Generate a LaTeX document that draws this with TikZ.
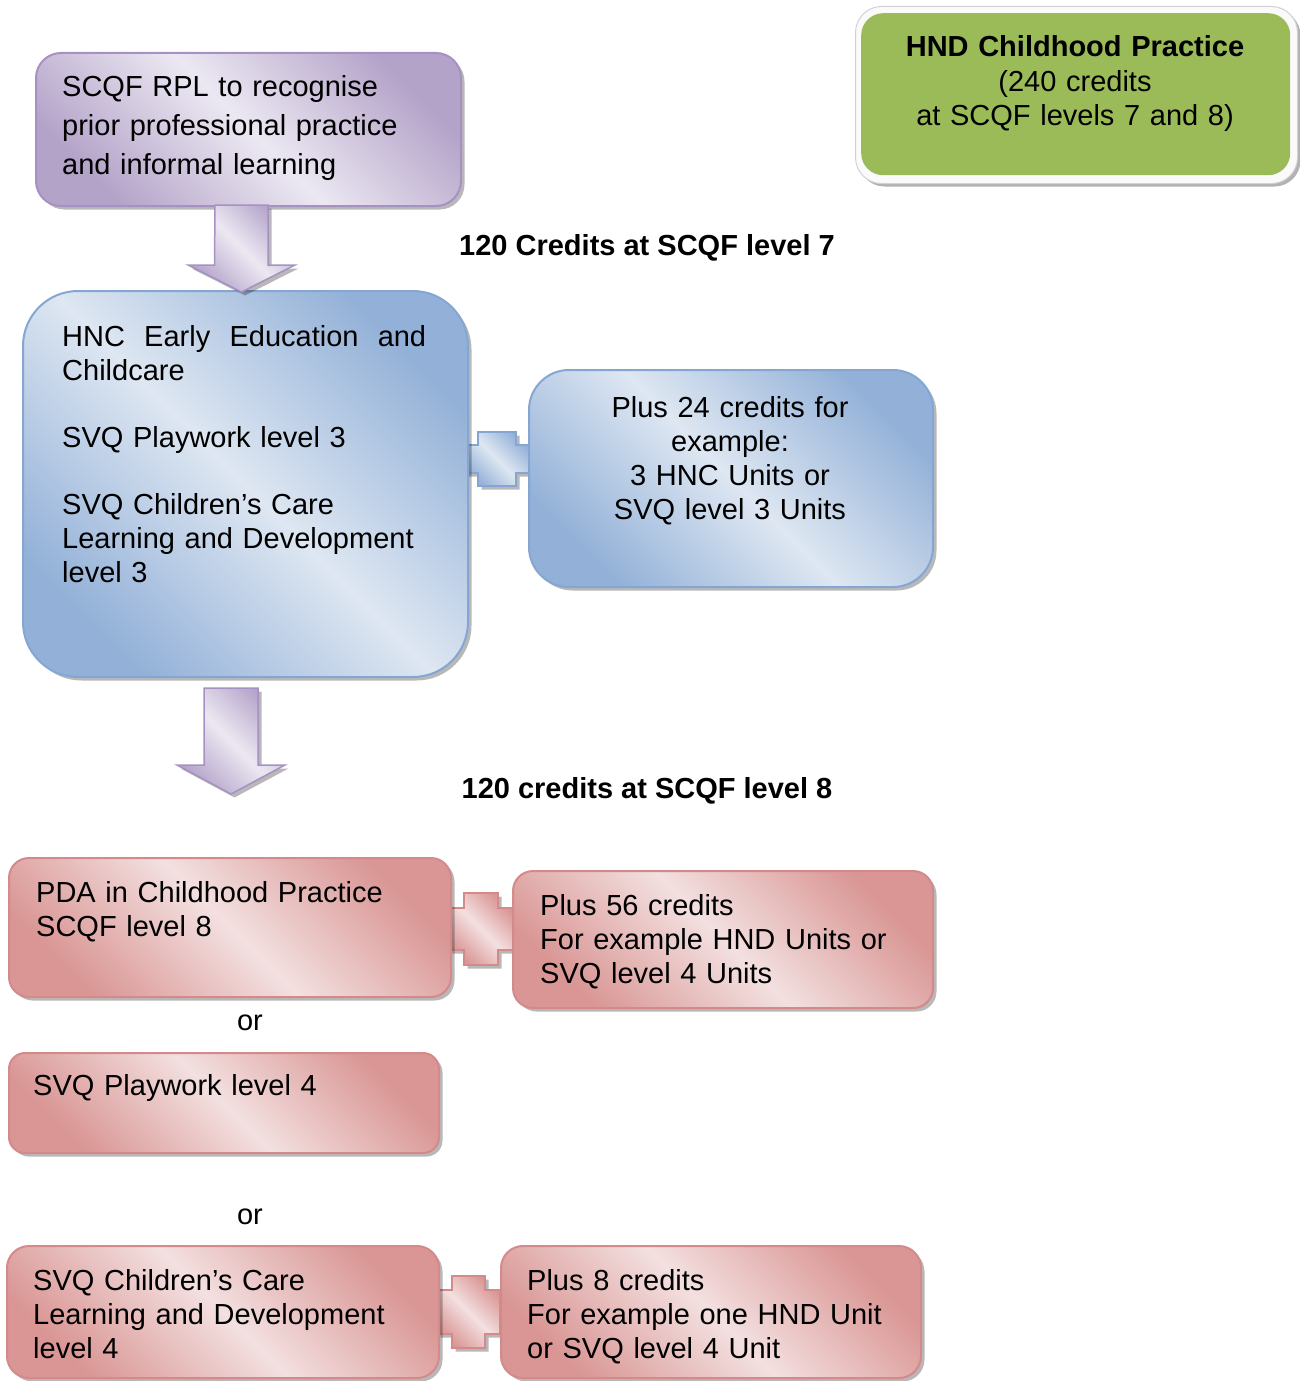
\documentclass[tikz,border=0pt]{standalone}
\usepackage{fontspec}
\setmainfont{Liberation Sans}
\usetikzlibrary{shadows,calc}

\definecolor{pudark}{HTML}{B4A3C9}
\definecolor{pulight}{HTML}{ECE8F2}
\definecolor{puedge}{HTML}{A592C2}
\definecolor{bldark}{HTML}{93B1D8}
\definecolor{bllight}{HTML}{DEE7F2}
\definecolor{bledge}{HTML}{86A6D2}
\definecolor{rddark}{HTML}{D99694}
\definecolor{rdlight}{HTML}{F3E0E0}
\definecolor{rdedge}{HTML}{D4898B}
\definecolor{grn}{HTML}{9BBB59}

\newcommand\drawcross[7]{%
  \draw[#1] (#2-#5,#3-#7) -- (#2+#5,#3-#7) -- (#2+#5,#3-#6) -- (#2+#4,#3-#6)
    -- (#2+#4,#3+#6) -- (#2+#5,#3+#6) -- (#2+#5,#3+#7) -- (#2-#5,#3+#7)
    -- (#2-#5,#3+#6) -- (#2-#4,#3+#6) -- (#2-#4,#3-#6) -- (#2-#5,#3-#6) -- cycle;}

\tikzset{
  shad/.style={drop shadow={shadow xshift=3.5pt, shadow yshift=-3.5pt, fill=black, opacity=0.28}},
  boxbase/.style={rectangle, anchor=north west, inner sep=0pt, line width=2pt, shad},
  pubox/.style={boxbase, draw=puedge, top color=pudark, bottom color=pudark, middle color=pulight, shading angle=-45},
  blbox/.style={boxbase, draw=bledge, top color=bldark, bottom color=bldark, middle color=bllight, shading angle=-45},
  rdbox/.style={boxbase, draw=rdedge, top color=rddark, bottom color=rddark, middle color=rdlight, shading angle=-45},
  puarrow/.style={draw=puedge, line width=1.5pt, line join=miter, top color=pudark, bottom color=pudark, middle color=pulight, shading angle=-45, shad},
  blcross/.style={draw=bledge, line width=1.5pt, top color=bldark, bottom color=bldark, middle color=bllight, shading angle=-45, shad},
  rdcross/.style={draw=rdedge, line width=1.5pt, top color=rddark, bottom color=rddark, middle color=rdlight, shading angle=-45, shad},
  txt/.style={font=\fontsize{29}{34}\selectfont, inner sep=0pt, text width=400pt, align=left, anchor=base west},
  ctxt/.style={font=\fontsize{29}{34}\selectfont, inner sep=0pt, text width=440pt, align=center, anchor=base},
  head/.style={font=\fontsize{29}{34}\selectfont\bfseries, inner sep=0pt, anchor=base},
}

\begin{document}
\begin{tikzpicture}[x=1pt,y=-1pt]
\useasboundingbox (0,0) rectangle (1299,1381);

% green target box
\node[anchor=north west, rectangle, rounded corners=26, minimum width=442, minimum height=177,
      fill=white!96!gray, draw=gray!35, line width=1pt,
      drop shadow={shadow xshift=3pt, shadow yshift=-3pt, fill=black, opacity=0.3}] (hndouter) at (855,6) {};
\node[anchor=north west, rectangle, rounded corners=22, minimum width=429, minimum height=162,
      fill=grn] (hnd) at (861,13) {};
\node[ctxt] (hndtxt) at (1075,57) {\textbf{HND Childhood Practice}\\(240 credits\\at SCQF levels 7 and 8)};

% crosses (drawn under boxes)
\drawcross{blcross}{497}{459}{32}{19}{14}{27}
\drawcross{rdcross}{481}{929}{32}{17}{21}{36}
\drawcross{rdcross}{468.5}{1312}{31.5}{16.5}{22}{36}

% boxes
\node[pubox, rounded corners=25, minimum width=425, minimum height=153] (rpl) at (35,52) {};
\node[blbox, rounded corners=55, minimum width=445, minimum height=386] (hnc) at (22,290) {};
\node[blbox, rounded corners=40, minimum width=404, minimum height=217] (p24) at (528,369) {};
\node[rdbox, rounded corners=20, minimum width=442, minimum height=139] (pda) at (8,857) {};
\node[rdbox, rounded corners=20, minimum width=420, minimum height=137] (p56) at (512,870) {};
\node[rdbox, rounded corners=16, minimum width=430, minimum height=100] (svqp) at (8,1052) {};
\node[rdbox, rounded corners=22, minimum width=432, minimum height=132] (svqc) at (6,1245) {};
\node[rdbox, rounded corners=22, minimum width=420, minimum height=132] (p8) at (500,1245) {};

% arrows
\coordinate (ar1) at (241.5,205);
\coordinate (ar2) at (231,688);
\draw[puarrow] ($(ar1)+(-26.5,0)$) -- ++(53,0) -- ++(0,60) -- ++(27,0) -- ($(ar1)+(0,87)$)
   -- ($(ar1)+(-53.5,60)$) -- ++(26.5,0) -- cycle;
\draw[puarrow] ($(ar2)+(-27,0)$) -- ++(54,0) -- ++(0,77) -- ++(27,0) -- ($(ar2)+(0,106)$)
   -- ($(ar2)+(-54,77)$) -- ++(27,0) -- cycle;

% texts
\node[txt, font=\fontsize{29}{39}\selectfont] (rpltxt) at (62,96) {SCQF RPL to recognise\\prior professional practice\\and informal learning};
\node[head] (h7) at (647,255) {120 Credits at SCQF level 7};
\node[txt, text width=364pt] (hnctxt) at (62,346) {HNC\hfill Early\hfill Education\hfill and\\Childcare\\[33pt]SVQ Playwork level 3\\[33pt]SVQ Children’s Care\\Learning and Development\\level 3};
\node[ctxt, text width=400pt] (p24txt) at (730,417) {Plus 24 credits for\\example:\\3 HNC Units or\\SVQ level 3 Units};
\node[head] (h8) at (647,798) {120 credits at SCQF level 8};
\node[txt] (pdatxt) at (36,902) {PDA in Childhood Practice\\SCQF level 8};
\node[txt] (p56txt) at (540,915) {Plus 56 credits\\For example HND Units or\\SVQ level 4 Units};
\node[ctxt, text width=100pt] (or1) at (250,1030) {or};
\node[txt] (svqptxt) at (33,1095) {SVQ Playwork level 4};
\node[ctxt, text width=100pt] (or2) at (250,1224) {or};
\node[txt] (svqctxt) at (33,1290) {SVQ Children’s Care\\Learning and Development\\level 4};
\node[txt] (p8txt) at (527,1290) {Plus 8 credits\\For example one HND Unit\\or SVQ level 4 Unit};
\end{tikzpicture}
\end{document}
